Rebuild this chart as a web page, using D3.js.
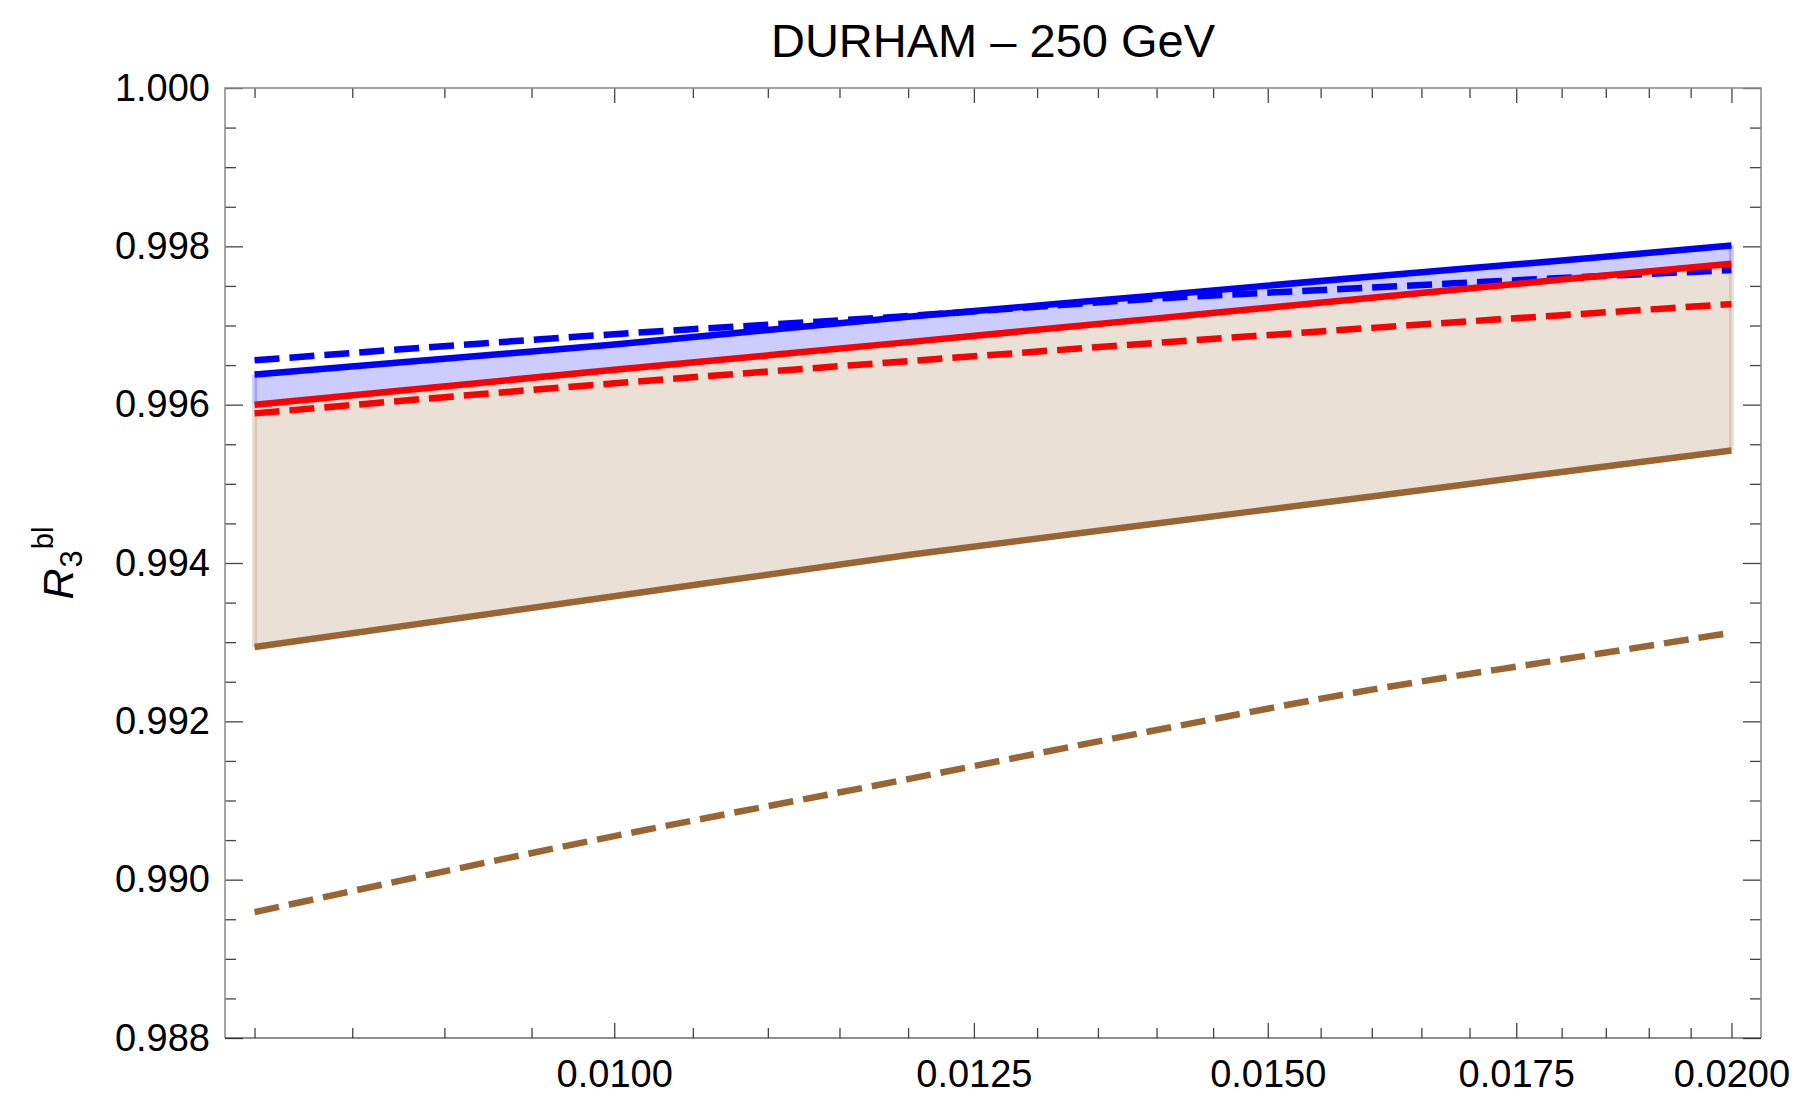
<!DOCTYPE html>
<html><head><meta charset="utf-8">
<script src="https://cdn.jsdelivr.net/npm/d3@7"></script>
<style>
body{margin:0;background:#fff}
svg{display:block}
text{font-family:"Liberation Sans",Arial,sans-serif;fill:#000}
</style>
</head><body>
<svg id="chart" width="1799" height="1096"></svg>
<script>
// ---- data ----
const titleText = "DURHAM \u2013 250 GeV";
const xValues     = [0.008, 0.010, 0.012, 0.014, 0.016, 0.018, 0.020];
const blueSolid   = [0.99638, 0.99676, 0.99711, 0.99738, 0.99762, 0.99782, 0.99801];
const blueDashed  = [0.99656, 0.99689, 0.99712, 0.99734, 0.99748, 0.99760, 0.99770];
const redSolid    = [0.99600, 0.99644, 0.99679, 0.99709, 0.99735, 0.99758, 0.99778];
const redDashed   = [0.99589, 0.99627, 0.99655, 0.99678, 0.99697, 0.99713, 0.99727];
const brownSolid  = [0.99294, 0.99358, 0.99410, 0.99450, 0.99484, 0.99515, 0.99542];
const brownDashed = [0.98959, 0.99055, 0.99127, 0.99189, 0.99240, 0.99278, 0.99312];
const xMajorTicks = [0.0100, 0.0125, 0.0150, 0.0175, 0.0200];
const xTickLabels = ["0.0100", "0.0125", "0.0150", "0.0175", "0.0200"];
const yMajorTicks = [0.988, 0.990, 0.992, 0.994, 0.996, 0.998, 1.000];
const yTickLabels = ["0.988", "0.990", "0.992", "0.994", "0.996", "0.998", "1.000"];
const yDomain = [0.988, 1.000];

// ---- layout ----
const M = {left: 225, right: 1761, top: 88, bottom: 1038};
const svg = d3.select("#chart");
const BLUE = "#0000ff", RED = "#ff0000", BROWN = "#996633";

const xExt = d3.extent(xValues);
const pad = 0.02 * Math.log(xExt[1] / xExt[0]);
const x = d3.scaleLog().domain([xExt[0] * Math.exp(-pad), xExt[1] * Math.exp(pad)]).range([M.left, M.right]);
const y = d3.scaleLinear().domain(yDomain).range([M.bottom, M.top]);

const xMinor = d3.range(0.008, 0.02001, 0.0005).map(v => +v.toFixed(4)).filter(v => !xMajorTicks.some(m => Math.abs(m - v) < 1e-9));
const yMinor = d3.range(0.988, 1.00001, 0.0005).map(v => +v.toFixed(4)).filter(v => !yMajorTicks.some(m => Math.abs(m - v) < 1e-9));

const rows = xValues.map((xv, i) => ({x: xv, bs: blueSolid[i], bd: blueDashed[i], rs: redSolid[i], rd: redDashed[i], ns: brownSolid[i], nd: brownDashed[i]}));

// ---- fills ----
const area = (hi, lo) => d3.area().x(d => x(d.x)).y0(d => y(d[lo])).y1(d => y(d[hi])).curve(d3.curveMonotoneX);
svg.append("path").datum(rows).attr("d", area("rs", "ns")).attr("fill", BROWN).attr("fill-opacity", 0.2);
svg.append("path").datum(rows).attr("d", area("bs", "rs")).attr("fill", BLUE).attr("fill-opacity", 0.2);
// filling edge strips
const first = rows[0], last = rows[rows.length - 1];
[first, last].forEach(d => {
  svg.append("line").attr("x1", x(d.x)).attr("x2", x(d.x)).attr("y1", y(d.rs)).attr("y2", y(d.ns))
    .attr("stroke", BROWN).attr("stroke-opacity", 0.2).attr("stroke-width", 5);
  svg.append("line").attr("x1", x(d.x)).attr("x2", x(d.x)).attr("y1", y(d.bs)).attr("y2", y(d.rs))
    .attr("stroke", BLUE).attr("stroke-opacity", 0.2).attr("stroke-width", 5);
});

// ---- lines ----
const line = key => d3.line().x(d => x(d.x)).y(d => y(d[key])).curve(d3.curveMonotoneX);
const series = [
  {k: "bs", c: BLUE, dash: null},
  {k: "bd", c: BLUE, dash: "25,10"},
  {k: "rs", c: RED, dash: null},
  {k: "rd", c: RED, dash: "25,10"},
  {k: "ns", c: BROWN, dash: null},
  {k: "nd", c: BROWN, dash: "25,10"}
];
series.forEach(s => {
  svg.append("path").datum(rows).attr("d", line(s.k)).attr("fill", "none")
    .attr("stroke", s.c).attr("stroke-width", 6.5).attr("stroke-dasharray", s.dash);
});

// ---- frame & ticks ----
const TICK = "#444";
function styleAxis(g, color) {
  g.select(".domain").remove();
  g.selectAll(".tick line").attr("stroke", color).attr("stroke-width", 1.3);
  g.selectAll(".tick text").style("font-size", "38px").style("font-family", '"Liberation Sans",Arial,sans-serif').attr("fill", "#000");
}
// bottom
svg.append("g").attr("transform", `translate(0,${M.bottom})`)
  .call(d3.axisBottom(x).tickValues(xMinor).tickSize(-10).tickFormat("")).call(g => styleAxis(g, TICK));
svg.append("g").attr("transform", `translate(0,${M.bottom})`)
  .call(d3.axisBottom(x).tickValues(xMajorTicks).tickSize(-15).tickPadding(22).tickFormat((d, i) => xTickLabels[i]))
  .call(g => styleAxis(g, TICK));
// top
svg.append("g").attr("transform", `translate(0,${M.top})`)
  .call(d3.axisTop(x).tickValues(xMinor).tickSize(-10).tickFormat("")).call(g => styleAxis(g, TICK));
svg.append("g").attr("transform", `translate(0,${M.top})`)
  .call(d3.axisTop(x).tickValues(xMajorTicks).tickSize(-15).tickFormat("")).call(g => styleAxis(g, TICK));
// left
svg.append("g").attr("transform", `translate(${M.left},0)`)
  .call(d3.axisLeft(y).tickValues(yMinor).tickSize(-11).tickFormat("")).call(g => styleAxis(g, TICK));
svg.append("g").attr("transform", `translate(${M.left},0)`)
  .call(d3.axisLeft(y).tickValues(yMajorTicks).tickSize(-18).tickPadding(15).tickFormat((d, i) => yTickLabels[i]))
  .call(g => styleAxis(g, TICK));
// right
svg.append("g").attr("transform", `translate(${M.right},0)`)
  .call(d3.axisRight(y).tickValues(yMinor).tickSize(-11).tickFormat("")).call(g => styleAxis(g, TICK));
svg.append("g").attr("transform", `translate(${M.right},0)`)
  .call(d3.axisRight(y).tickValues(yMajorTicks).tickSize(-18).tickFormat("")).call(g => styleAxis(g, TICK));

// frame lines
svg.append("path").attr("d", `M${M.left},${M.bottom}V${M.top}H${M.right}V${M.bottom}`)
  .attr("fill", "none").attr("stroke", "#888").attr("stroke-width", 1.5);
svg.append("line").attr("x1", M.left).attr("x2", M.right).attr("y1", M.bottom).attr("y2", M.bottom)
  .attr("stroke", "#222").attr("stroke-width", 1.2);

// ---- title ----
svg.append("text").attr("x", (M.left + M.right) / 2).attr("y", 57)
  .attr("text-anchor", "middle").style("font-size", "47px").text(titleText);

// ---- y label R_3^bl ----
const yl = svg.append("text").attr("transform", `translate(73,${(M.top + M.bottom) / 2}) rotate(-90)`)
  .attr("text-anchor", "middle");
yl.append("tspan").style("font-style", "italic").style("font-size", "43px").text("R");
yl.append("tspan").style("font-size", "31px").attr("dy", 9).attr("dx", 1).text("3");
yl.append("tspan").style("font-size", "29px").attr("dy", -29).attr("dx", 1).text("bl");
</script>
</body></html>
